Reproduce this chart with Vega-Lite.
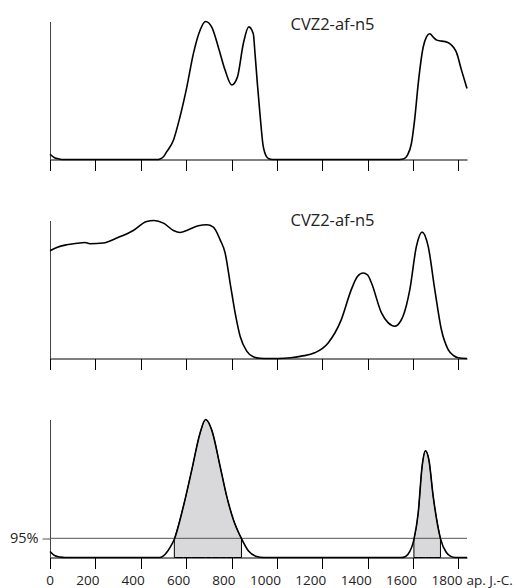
{
  "$schema": "https://vega.github.io/schema/vega-lite/v6.json",
  "padding": {"left": 9, "top": 16.5, "right": 0, "bottom": 0},
  "bounds": "flush",
  "spacing": 61,
  "config": {
    "view": {"stroke": null},
    "font": "Open Sans",
    "axis": {"grid": false, "title": null, "domainWidth": 1, "tickWidth": 1, "labelColor": "#222", "labelFontSize": 13.5, "labelFont": "Open Sans"}
  },
  "datasets": {
    "p1": [
      {"x": 0, "v": 0.038}, {"x": 20, "v": 0.013}, {"x": 40, "v": 0.004}, {"x": 60, "v": 0}, {"x": 200, "v": 0}, {"x": 400, "v": 0}, {"x": 470, "v": 0},
      {"x": 485, "v": 0.004}, {"x": 500, "v": 0.02}, {"x": 514, "v": 0.055}, {"x": 544, "v": 0.14}, {"x": 573, "v": 0.31}, {"x": 603, "v": 0.525}, {"x": 632, "v": 0.767},
      {"x": 661, "v": 0.935}, {"x": 686, "v": 1.0}, {"x": 713, "v": 0.959}, {"x": 742, "v": 0.814}, {"x": 772, "v": 0.646}, {"x": 801, "v": 0.54},
      {"x": 826, "v": 0.597}, {"x": 852, "v": 0.839}, {"x": 876, "v": 0.961}, {"x": 896, "v": 0.911}, {"x": 904, "v": 0.76}, {"x": 914, "v": 0.55},
      {"x": 926, "v": 0.32}, {"x": 939, "v": 0.105}, {"x": 956, "v": 0.017}, {"x": 966, "v": 0.005}, {"x": 979, "v": 0}, {"x": 1200, "v": 0}, {"x": 1540, "v": 0},
      {"x": 1560, "v": 0.005}, {"x": 1575, "v": 0.03}, {"x": 1593, "v": 0.116}, {"x": 1608, "v": 0.3}, {"x": 1623, "v": 0.55}, {"x": 1645, "v": 0.815},
      {"x": 1660, "v": 0.89}, {"x": 1674, "v": 0.911}, {"x": 1690, "v": 0.885}, {"x": 1705, "v": 0.865}, {"x": 1718, "v": 0.86}, {"x": 1740, "v": 0.855},
      {"x": 1762, "v": 0.84}, {"x": 1780, "v": 0.81}, {"x": 1791, "v": 0.778}, {"x": 1814, "v": 0.646}, {"x": 1838, "v": 0.515}
    ],
    "p2": [
      {"x": 0, "v": 0.781}, {"x": 30, "v": 0.805}, {"x": 73, "v": 0.824}, {"x": 120, "v": 0.835}, {"x": 154, "v": 0.841}, {"x": 176, "v": 0.832},
      {"x": 235, "v": 0.837}, {"x": 294, "v": 0.873}, {"x": 367, "v": 0.928}, {"x": 426, "v": 0.993}, {"x": 459, "v": 1.0}, {"x": 500, "v": 0.981},
      {"x": 544, "v": 0.928}, {"x": 573, "v": 0.913}, {"x": 610, "v": 0.933}, {"x": 654, "v": 0.962}, {"x": 691, "v": 0.969}, {"x": 720, "v": 0.952},
      {"x": 750, "v": 0.86}, {"x": 772, "v": 0.764}, {"x": 794, "v": 0.547}, {"x": 816, "v": 0.33}, {"x": 838, "v": 0.161}, {"x": 867, "v": 0.053},
      {"x": 896, "v": 0.012}, {"x": 926, "v": 0.002}, {"x": 960, "v": 0}, {"x": 1005, "v": 0}, {"x": 1060, "v": 0.005}, {"x": 1108, "v": 0.017},
      {"x": 1167, "v": 0.041}, {"x": 1226, "v": 0.113}, {"x": 1284, "v": 0.282}, {"x": 1328, "v": 0.499}, {"x": 1355, "v": 0.595}, {"x": 1380, "v": 0.62},
      {"x": 1400, "v": 0.605}, {"x": 1417, "v": 0.547}, {"x": 1461, "v": 0.33}, {"x": 1490, "v": 0.26}, {"x": 1520, "v": 0.234}, {"x": 1545, "v": 0.27},
      {"x": 1556, "v": 0.306}, {"x": 1586, "v": 0.499}, {"x": 1615, "v": 0.812}, {"x": 1640, "v": 0.916}, {"x": 1667, "v": 0.812}, {"x": 1696, "v": 0.499},
      {"x": 1725, "v": 0.21}, {"x": 1755, "v": 0.065}, {"x": 1780, "v": 0.02}, {"x": 1799, "v": 0.005}, {"x": 1838, "v": 0}
    ],
    "p3": [
      {"x": 0, "v": 0.043}, {"x": 22, "v": 0.012}, {"x": 45, "v": 0.003}, {"x": 66, "v": 0}, {"x": 485, "v": 0}, {"x": 500, "v": 0.012},
      {"x": 514, "v": 0.036}, {"x": 530, "v": 0.075}, {"x": 548, "v": 0.132}, {"x": 588, "v": 0.371}, {"x": 625, "v": 0.635}, {"x": 661, "v": 0.899},
      {"x": 686, "v": 1.0}, {"x": 713, "v": 0.923}, {"x": 750, "v": 0.659}, {"x": 779, "v": 0.443}, {"x": 808, "v": 0.276}, {"x": 844, "v": 0.137},
      {"x": 875, "v": 0.047}, {"x": 911, "v": 0.007}, {"x": 940, "v": 0}, {"x": 1549, "v": 0}, {"x": 1565, "v": 0.006}, {"x": 1578, "v": 0.024}, {"x": 1604, "v": 0.13},
      {"x": 1623, "v": 0.324}, {"x": 1640, "v": 0.659}, {"x": 1655, "v": 0.774}, {"x": 1670, "v": 0.707}, {"x": 1689, "v": 0.443}, {"x": 1721, "v": 0.137},
      {"x": 1747, "v": 0.036}, {"x": 1765, "v": 0.01}, {"x": 1786, "v": 0}, {"x": 1838, "v": 0}
    ]
  },
  "vconcat": [
    {
      "width": 417, "height": 138,
      "layer": [
        {
          "data": {"name": "p1"},
          "mark": {"type": "line", "color": "black", "strokeWidth": 1.6, "interpolate": "monotone"},
          "encoding": {
            "x": {"field": "x", "type": "quantitative", "scale": {"domain": [0, 1838], "nice": false, "zero": false},
                  "axis": {"values": [0, 200, 400, 600, 800, 1000, 1200, 1400, 1600, 1800], "labels": false, "tickSize": 11, "domainColor": "black", "tickColor": "black"}},
            "y": {"field": "v", "type": "quantitative", "scale": {"domain": [0, 1], "nice": false},
                  "axis": {"ticks": false, "labels": false, "domainColor": "#444"}}
          }
        },
        {
          "data": {"values": [{}]},
          "mark": {"type": "text", "text": "CVZ2-af-n5", "align": "left", "baseline": "middle", "fontSize": 16.5, "color": "#222"},
          "encoding": {"x": {"datum": 1060, "type": "quantitative"}, "y": {"datum": 0.975, "type": "quantitative"}}
        }
      ]
    },
    {
      "width": 417, "height": 138,
      "layer": [
        {
          "data": {"name": "p2"},
          "mark": {"type": "line", "color": "black", "strokeWidth": 1.6, "interpolate": "monotone"},
          "encoding": {
            "x": {"field": "x", "type": "quantitative", "scale": {"domain": [0, 1838], "nice": false, "zero": false},
                  "axis": {"values": [0, 200, 400, 600, 800, 1000, 1200, 1400, 1600, 1800], "labels": false, "tickSize": 11, "domainColor": "black", "tickColor": "black"}},
            "y": {"field": "v", "type": "quantitative", "scale": {"domain": [0, 1], "nice": false},
                  "axis": {"ticks": false, "labels": false, "domainColor": "#444"}}
          }
        },
        {
          "data": {"values": [{}]},
          "mark": {"type": "text", "text": "CVZ2-af-n5", "align": "left", "baseline": "middle", "fontSize": 16.5, "color": "#222"},
          "encoding": {"x": {"datum": 1060, "type": "quantitative"}, "y": {"datum": 1.0, "type": "quantitative"}}
        }
      ]
    },
    {
      "width": 417, "height": 138,
      "layer": [
        {
          "data": {"name": "p3"},
          "transform": [{"filter": "datum.x >= 548 && datum.x <= 844"}],
          "mark": {"type": "area", "fill": "#d9d9db", "stroke": "black", "strokeWidth": 1, "interpolate": "monotone"},
          "encoding": {"x": {"field": "x", "type": "quantitative"}, "y": {"field": "v", "type": "quantitative"}}
        },
        {
          "data": {"name": "p3"},
          "transform": [{"filter": "datum.x >= 1604 && datum.x <= 1721"}],
          "mark": {"type": "area", "fill": "#d9d9db", "stroke": "black", "strokeWidth": 1, "interpolate": "monotone"},
          "encoding": {"x": {"field": "x", "type": "quantitative"}, "y": {"field": "v", "type": "quantitative"}}
        },
        {
          "data": {"values": [{}]},
          "mark": {"type": "rule", "color": "#555", "strokeWidth": 1},
          "encoding": {"y": {"datum": 0.139, "type": "quantitative"}}
        },
        {
          "data": {"name": "p3"},
          "mark": {"type": "line", "color": "black", "strokeWidth": 1.6, "interpolate": "monotone"},
          "encoding": {
            "x": {"field": "x", "type": "quantitative", "scale": {"domain": [0, 1838], "nice": false, "zero": false},
                  "axis": {"values": [0, 200, 400, 600, 800, 1000, 1200, 1400, 1600, 1800], "format": "d", "labelAlign": "right", "labelOffset": 3.5, "labelOverlap": false, "tickSize": 11, "labelPadding": 4.5, "domainColor": "black", "tickColor": "black",
                           "title": "ap. J.-C.", "titleX": 416, "titleY": 26.7, "titleAlign": "left", "titleBaseline": "alphabetic", "titleFontSize": 13.5, "titleFontWeight": "normal", "titleColor": "#222", "titleFont": "Open Sans"}},
            "y": {"field": "v", "type": "quantitative", "scale": {"domain": [0, 1], "nice": false},
                  "axis": {"values": [0.139], "labelExpr": "'95%'", "labelFontSize": 14.5, "tickSize": 8, "labelPadding": 4, "tickColor": "#555", "domainColor": "#444"}}
          }
        }
      ]
    }
  ]
}
